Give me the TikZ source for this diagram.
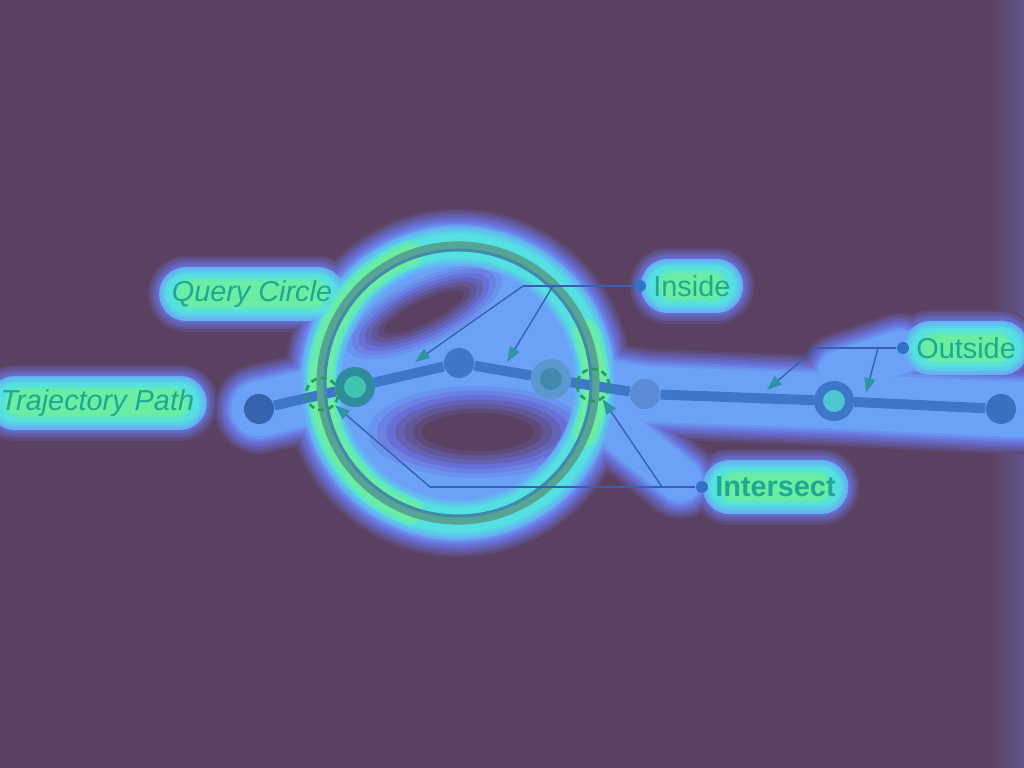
\documentclass[tikz,border=0pt]{standalone}
\usepackage{fontspec}
\setsansfont{Liberation Sans}
\usetikzlibrary{positioning, arrows.meta}
\definecolor{hmBack}{HTML}{5B4161}
\definecolor{hmEdge}{HTML}{615689}
\definecolor{hmLav}{HTML}{6870D8}
\definecolor{hmBlue}{HTML}{6BA2F8}
\definecolor{hmCyan}{HTML}{55E0E2}
\definecolor{hmGreen}{HTML}{6CEEA2}
\definecolor{hmYellow}{HTML}{D8EA48}
\definecolor{mTrack}{HTML}{3E76CA}
\definecolor{mRing}{HTML}{56A494}
\definecolor{mRingIn}{HTML}{4289AE}
\definecolor{mTeal}{HTML}{2E8C9C}
\definecolor{mMint}{HTML}{3FC4B0}
\definecolor{mSky}{HTML}{5B98D0}
\definecolor{mLead}{HTML}{3760B4}
\definecolor{mTip}{HTML}{2E96A2}
\definecolor{mText}{HTML}{20A894}
\definecolor{mHit}{HTML}{2A9A58}
\definecolor{mDot}{HTML}{3570C8}
\pgfdeclarelayer{heat}
\pgfdeclarelayer{wire}
\pgfsetlayers{heat,wire,main}

\begin{document}
\begin{tikzpicture}[
  x=0.01cm, y=-0.01cm,
  every node/.style={font=\sffamily\fontsize{8.2}{10}\selectfont, text=mText, inner sep=0pt},
  waypt/.style={circle, fill=mTrack, minimum size=3mm},
  ringpt/.style={circle, line width=0.9mm, minimum size=3.1mm},
  crossing/.style={circle, draw=mHit, line width=0.75pt, dash pattern=on 1.7pt off 1.2pt, minimum size=3.2mm},
  query/.style={circle, draw=mRing, line width=0.9mm, minimum size=27.4mm},
  tagdot/.style={circle, fill=mDot, minimum size=1.2mm},
  track/.style={draw=mTrack, line width=1mm},
  lead/.style={draw=mLead, line width=0.4pt},
  leadarrow/.style={lead, -{Triangle[length=1.5mm, width=1.1mm, color=mTip]}}
]
\useasboundingbox (0,0) rectangle (1024,768);

\node[query] (qc) at (458,383) {};
\draw[mRingIn, line width=0.3mm] (qc.center) circle[radius=133];

% trajectory
\node[waypt, fill=mTrack!85!black] (p1) at (259,409) {};
\node[ringpt, draw=mTeal, fill=mMint] (p2) at (355,387) {};
\node[waypt] (p3) at (459,363) {};
\node[ringpt, draw=mSky, fill=mRingIn] (p4) at (551,379) {};
\node[waypt, fill=mTrack!85!white] (p5) at (645,394) {};
\node[ringpt, draw=mTrack, fill=hmCyan!70!mRingIn] (p6) at (834,401) {};
\node[waypt, fill=mTrack!95!black] (p7) at (1001,409) {};

\node[crossing] (x1) at (322,394) {};
\node[crossing] (x2) at (593,385) {};

% labels
\node[font=\sffamily\itshape\fontsize{8.2}{10}\selectfont] (qlbl) at (252,294) {Query Circle};
\node[font=\sffamily\itshape\fontsize{8.2}{10}\selectfont, anchor=west] (tlbl) at (0,403) {Trajectory Path};

\node[tagdot] (indot) at (640,286) {};
\node[right=0.6mm of indot] (inlbl) {Inside};
\node[tagdot] (outdot) at (903,348) {};
\node[right=0.6mm of outdot] (outlbl) {Outside};
\node[tagdot] (xdot) at (702,487) {};
\node[right=0.6mm of xdot, font=\sffamily\bfseries\fontsize{8.2}{10}\selectfont] (xlbl) {Intersect};

\coordinate (inA) at (523,286);
\coordinate (inB) at (553,286);
\coordinate (outA) at (816,348);
\coordinate (outB) at (878,348);
\coordinate (xA) at (430,487);
\coordinate (xB) at (662,487);

\draw[lead] (indot) -- (inA);
\draw[leadarrow] (inA) -- (415,362);
\draw[leadarrow] (inB) -- (507,362);
\draw[lead] (outdot) -- (outA);
\draw[leadarrow] (outA) -- (767,390);
\draw[leadarrow] (outB) -- (866,393);
\draw[lead] (xdot) -- (xA);
\draw[leadarrow] (xA) -- (x1);
\draw[leadarrow] (xB) -- (x2);

\begin{pgfonlayer}{wire}
  \draw[track] (p1) -- (p2) -- (p3) -- (p4) -- (p5) -- (p6) -- (p7);
\end{pgfonlayer}

% heat overlay
\begin{pgfonlayer}{heat}
  \fill[hmBack] (0,0) rectangle (1024,768);
  \shade[left color=hmBack, right color=hmEdge] (990,0) rectangle (1024,768);
  \begin{scope}
    \clip (0,0) rectangle (1024,768);
    \foreach \s/\c in {0/hmLav!20!hmBack, 5/hmLav!40!hmBack, 10/hmLav!60!hmBack, 15/hmLav!80!hmBack, 20/hmLav, 25/hmBlue!35!hmLav, 30/hmBlue!70!hmLav, 35/hmBlue}{
      \begin{scope}[draw=\c, fill=\c, line cap=round, line join=round]
        \fill (qc.center) circle[radius=174-\s/2];
        \draw[line width=(90-\s)*0.01cm] (p1.center) -- (p2.center) -- (p3.center) -- (p4.center) -- (p5.center) -- (p6.center) -- (p7.center) -- (1060,410);
        \draw[line width=(78-\s)*0.01cm] (612,425) -- (680,480);
        \draw[line width=(78-\s)*0.01cm] (840,372) -- (900,352);
        \foreach \lb in {qlbl, tlbl, inlbl, outlbl, xlbl}
          \draw[line width=(76-\s)*0.01cm] ([xshift=1.5mm]\lb.west) -- ([xshift=-1.5mm]\lb.east);
      \end{scope}
    }
    % cold spots inside the circle
    \foreach \k/\c in {0/hmBlue!70!hmLav, 1/hmBlue!35!hmLav, 2/hmLav, 3/hmLav!70!hmBack, 4/hmLav!45!hmBack, 5/hmLav!20!hmBack, 6/hmBack}{
      \fill[\c, rotate around={26:(424,312)}] (424,312) ellipse[x radius=86-7*\k, y radius=32-3.5*\k];
      \fill[\c] (478,432) ellipse[x radius=110-9*\k, y radius=46-4.5*\k];
    }
    \foreach \s/\c in {0/hmCyan!25!hmBlue, 5/hmCyan!50!hmBlue, 10/hmCyan!75!hmBlue, 15/hmCyan}{
      \draw[\c, line width=(40-\s)*0.01cm] (qc.center) circle[radius=137];
      \foreach \lb in {qlbl, tlbl, inlbl, outlbl, xlbl}
        \draw[\c, line width=(54-\s)*0.01cm, line cap=round] ([xshift=1.5mm]\lb.west) -- ([xshift=-1.5mm]\lb.east);
    }
    \foreach \s/\c in {0/hmGreen!35!hmCyan, 5/hmGreen!70!hmCyan, 10/hmGreen}{
      \draw[\c, line width=(28-\s)*0.01cm, line cap=round] (qc.center) ++(110:137) arc[start angle=110, end angle=250, radius=137];
      \draw[\c, line width=(28-\s)*0.01cm, line cap=round] (qc.center) ++(-22:137) arc[start angle=-22, end angle=22, radius=137];
      \foreach \lb in {qlbl, tlbl, inlbl, outlbl, xlbl}
        \draw[\c, line width=(34-\s)*0.01cm, line cap=round] ([xshift=2mm]\lb.west) -- ([xshift=-2mm]\lb.east);
    }
    \foreach \a in {175,1}
      \foreach \k [evaluate=\k as \p using int(25*\k)] in {1,...,4}
        \draw[hmYellow!\p!hmGreen, line width=(26-5*\k)*0.01cm, line cap=round] (qc.center) ++(\a-14+2*\k:137) arc[start angle=\a-14+2*\k, end angle=\a+14-2*\k, radius=137];
  \end{scope}
\end{pgfonlayer}
\end{tikzpicture}
\end{document}
